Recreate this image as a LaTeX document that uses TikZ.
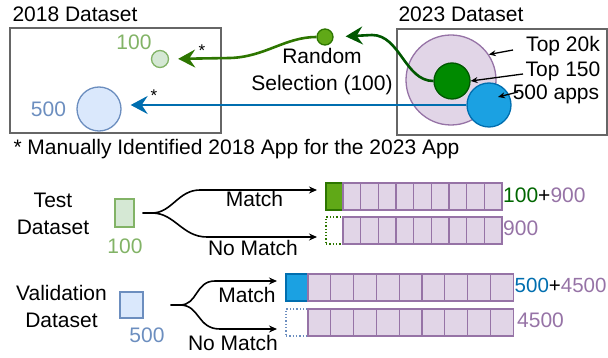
\documentclass[tikz,border=0pt]{standalone}
\usepackage{fontspec}
\setmainfont{Liberation Sans}
\usepackage{xcolor}
\usetikzlibrary{arrows.meta, shapes, positioning}

\definecolor{lgfill}{HTML}{D5E8D4}
\definecolor{lgline}{HTML}{82B366}
\definecolor{lbfill}{HTML}{DAE8FC}
\definecolor{lbline}{HTML}{6C8EBF}
\definecolor{pfill}{HTML}{E1D5E7}
\definecolor{pline}{HTML}{9673A6}
\definecolor{dgfill}{HTML}{008A00}
\definecolor{dgline}{HTML}{005700}
\definecolor{dgtext}{HTML}{006600}
\definecolor{limefill}{HTML}{60A917}
\definecolor{limeline}{HTML}{2D7600}
\definecolor{bfill}{HTML}{1BA1E2}
\definecolor{bline}{HTML}{006EAF}
\definecolor{boxline}{HTML}{666666}

\newcommand{\dfont}{\fontsize{21}{27}\selectfont}

\begin{document}
\begin{tikzpicture}[x=1pt, y=-1pt,
  lbl/.style={font=\dfont, inner sep=0pt, anchor=base},
  star/.style={font=\fontsize{17}{17}\selectfont, inner sep=0pt},
  dsetbox/.style={rectangle, draw=boxline, line width=1.3pt, inner sep=0pt},
  dot/.style={circle, draw, line width=1.3pt, inner sep=0pt},
  sqbox/.style={rectangle, line width=1.3pt, inner sep=0pt},
  cellbox/.style={rectangle, draw=pline, fill=pfill, line width=1.3pt, inner sep=0pt, outer sep=0pt},
  ptr/.style={draw=black, line width=1.3pt, -{Stealth[length=7pt,width=6pt]}},
  branch/.style={draw=black, line width=1.6pt, -{Stealth[length=8pt,width=7pt]}},
  bigarrow/.style={line width=2.6pt, -{Stealth[length=17pt,width=18pt,inset=6pt]}}
]
\useasboundingbox (0,0) rectangle (608,358);

% the two datasets
\node[lbl] (t2018) at (75,22) {2018 Dataset};
\node[lbl] (t2023) at (461,22) {2023 Dataset};
\node[dsetbox, minimum width=211pt, minimum height=105pt] (d2018) at (115.5,80.5) {};
\node[dsetbox, minimum width=210pt, minimum height=106pt] (d2023) at (502,82) {};

% 2023 side
\node[dot, draw=pline, fill=pfill, minimum size=90pt] (c20k) at (451,80) {};
\node[dot, draw=dgline, fill=dgfill, minimum size=36pt] (c150) at (452,81) {};
\node[dot, draw=bline, fill=bfill, minimum size=44pt] (capps) at (489,105) {};
\node[lbl] (l20k) at (563,52) {Top 20k};
\node[lbl] (l150) at (563,77) {Top 150};
\node[lbl] (lapps) at (556,100) {500 apps};
\coordinate (p20k) at (513,50);
\coordinate (p150) at (523,74);
\coordinate (papps) at (518,92);
\draw[ptr] (p20k) -- (c20k.34);
\draw[ptr] (p150) -- (c150.east);
\draw[ptr] (papps) -- ([xshift=9pt,yshift=8pt]capps.center);

% random selection
\node[dot, draw=limeline, fill=limefill, minimum size=16pt] (rsel) at (325,37) {};
\node[lbl, anchor=center, align=center] (lrsel) at (322,72) {Random\\Selection (100)};

% 2018 side
\node[dot, draw=lgline, fill=lgfill, minimum size=17pt] (c100) at (160,59) {};
\node[dot, draw=lbline, fill=lbfill, minimum size=44pt] (c500) at (99,109) {};
\node[lbl, text=lgline] (n100) at (134,50) {100};
\node[lbl, text=lbline] (n500) at (48.5,117) {500};
\node[star] (s100) at (202,50.5) {*};
\node[star] (s500) at (154,95.5) {*};

\draw[bigarrow, color=dgline, shorten >=12pt] (c150.west) .. controls (405,81) and (400,35) .. (372,35) -- (rsel.east);
\draw[bigarrow, color=limeline, shorten >=9pt] (rsel.west) .. controls (285,37) and (265,57) .. (230,58) -- (c100.east);
\draw[bigarrow, color=bline, shorten >=9pt] (capps.west) -- (c500.east |- capps.west);

\node[lbl] (note) at (236.5,155) {* Manually Identified 2018 App for the 2023 App};

% test dataset
\node[lbl, anchor=center, align=center] (ltest) at (53,214) {Test\\Dataset};
\node[sqbox, draw=lgline, fill=lgfill, minimum width=19pt, minimum height=28pt] (sqtest) at (124.5,213) {};
\node[lbl, text=lgline] (ntest) at (125,254) {100};
\coordinate (tmend) at (317,190);
\coordinate (tnend) at (317,237);
\draw[branch] ([xshift=8pt]sqtest.east) -- (152,213) .. controls (172,213) and (178,190) .. (200,190) -- (tmend);
\draw[branch] ([xshift=8pt]sqtest.east) -- (152,213) .. controls (175,213) and (182,237) .. (207,237) -- (tnend);
\node[lbl] (lmt) at (254.5,207) {Match};
\node[lbl] (lnt) at (253,255) {No Match};

\node[cellbox, draw=limeline, fill=limefill, minimum width=17pt, minimum height=27pt] (tm0) at (334.5,196.5) {};
\node[cellbox, draw=limeline, fill=none, dotted, minimum width=17pt, minimum height=27pt] (tn0) at (334.5,230.5) {};
\foreach \i in {1,...,9} {
  \node[cellbox, minimum width=17.67pt, minimum height=27pt] (tm\i) at ({334.17+17.67*\i},196.5) {};
  \node[cellbox, minimum width=17.67pt, minimum height=27pt] (tn\i) at ({334.17+17.67*\i},230.5) {};
}
\node[lbl, anchor=base west] (ntm) at (503,203) {\textcolor{dgtext}{100}+\textcolor{pline}{900}};
\node[lbl, anchor=base west, text=pline] (ntn) at (503,236) {900};

% validation dataset
\node[lbl, anchor=center, align=center] (lval) at (61.5,306) {Validation\\Dataset};
\node[sqbox, draw=lbline, fill=lbfill, minimum width=23pt, minimum height=26pt] (sqval) at (131.5,305) {};
\node[lbl, text=lbline] (nval) at (147,342) {500};
\coordinate (vmend) at (277,281);
\coordinate (vnend) at (277,329);
\draw[branch] ([xshift=27pt]sqval.east) -- (180,305) .. controls (198,305) and (195,281) .. (215,281) -- (vmend);
\draw[branch] ([xshift=27pt]sqval.east) -- (180,305) .. controls (200,305) and (197,329) .. (220,329) -- (vnend);
\node[lbl] (lmv) at (247,302) {Match};
\node[lbl] (lnv) at (233,350) {No Match};

\node[cellbox, draw=bline, fill=bfill, minimum width=22pt, minimum height=27pt] (vm0) at (297,287.5) {};
\node[cellbox, draw=lbline, fill=none, dotted, minimum width=22pt, minimum height=27pt] (vn0) at (297,322.5) {};
\foreach \i in {1,...,9} {
  \node[cellbox, minimum width=22.8pt, minimum height=27pt] (vm\i) at ({296.6+22.8*\i},287.5) {};
  \node[cellbox, minimum width=22.8pt, minimum height=27pt] (vn\i) at ({296.6+22.8*\i},322.5) {};
}
\node[lbl, anchor=base west, font=\fontsize{20.5}{27}\selectfont] (nvm) at (514.5,292) {\textcolor{bline}{500}+\textcolor{pline}{4500}};
\node[lbl, anchor=base west, text=pline] (nvn) at (517,327) {4500};
\end{tikzpicture}
\end{document}
